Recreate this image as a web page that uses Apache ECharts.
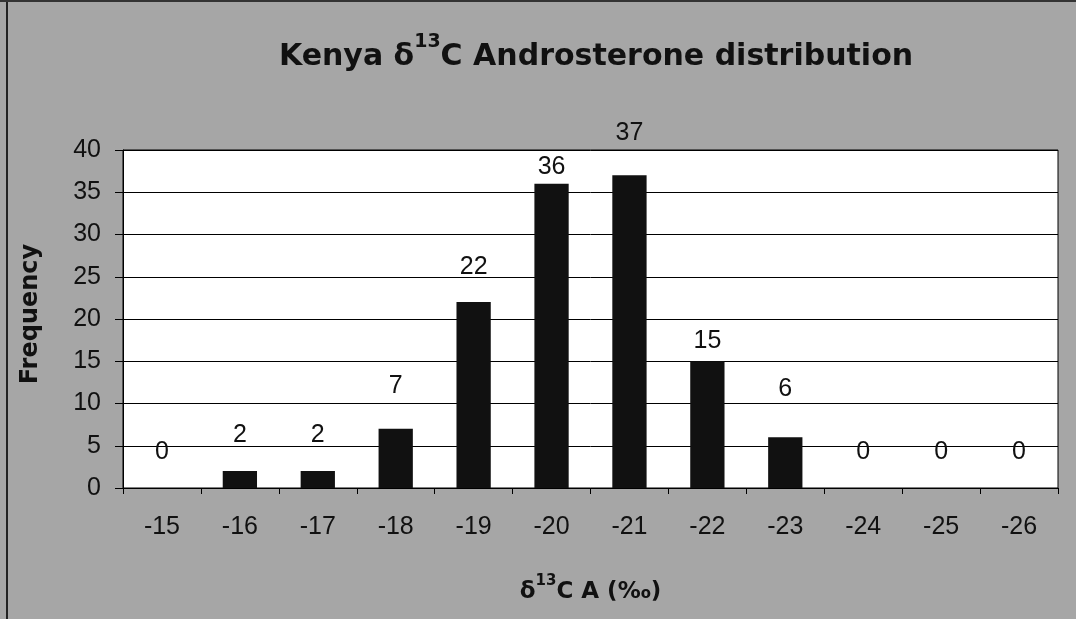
<!DOCTYPE html>
<html>
<head>
<meta charset="utf-8">
<script src="https://cdn.jsdelivr.net/npm/echarts@6/dist/echarts.min.js"></script>
<style>
  html, body { margin: 0; padding: 0; background: #a6a6a6; }
  #chart { width: 1076px; height: 619px; }
</style>
</head>
<body>
<div id="chart"></div>
<script>
// 数据
const categories = ['-15', '-16', '-17', '-18', '-19', '-20', '-21', '-22', '-23', '-24', '-25', '-26']
const frequency = [0, 2, 2, 7, 22, 36, 37, 15, 6, 0, 0, 0]
const yTicks = [0, 5, 10, 15, 20, 25, 30, 35, 40]

const chart = echarts.init(document.getElementById('chart'))
const font = 'Arial, "Liberation Sans", Helvetica, sans-serif'
const wide = '"DejaVu Sans", Arial, sans-serif'

// 数值标签离柱顶的距离（原图里各不相同）
const labelGap = [23, 23, 23, 30, 22, 4, 30, 8, 36, 23, 23, 23]

const option = {
  backgroundColor: '#a6a6a6',
  animation: false,
  title: {
    text: '{m|Kenya δ}{sup|13}{m|C Androsterone distribution}',
    left: 591,
    textAlign: 'center',
    top: 28,
    textStyle: {
      rich: {
        m: { fontFamily: wide, fontSize: 30, fontWeight: 'bold', color: '#111', lineHeight: 48 },
        sup: { fontFamily: wide, fontSize: 19, fontWeight: 'bold', color: '#111', lineHeight: 21, verticalAlign: 'top' }
      }
    }
  },
  graphic: [
    {
      // 扫描件的边框
      type: 'line',
      shape: { x1: 7, y1: 0, x2: 7, y2: 619 },
      style: { stroke: '#222', lineWidth: 2 },
      silent: true
    },
    {
      type: 'line',
      shape: { x1: 0, y1: 1, x2: 1076, y2: 1 },
      style: { stroke: '#333', lineWidth: 2 },
      silent: true
    }
  ],
  grid: {
    left: 123,
    right: 18,
    top: 150,
    bottom: 131,
    show: true,
    backgroundColor: '#fff',
    borderColor: '#000',
    borderWidth: 1
  },
  xAxis: {
    type: 'category',
    data: categories,
    name: '{m|δ}{sup|13}{m|C A (‰)}',
    nameLocation: 'middle',
    nameGap: 86,
    nameTextStyle: {
      rich: {
        m: { fontFamily: wide, fontSize: 23, fontWeight: 'bold', color: '#111', lineHeight: 36 },
        sup: { fontFamily: wide, fontSize: 15, fontWeight: 'bold', color: '#111', lineHeight: 17, verticalAlign: 'top' }
      }
    },
    axisLine: { lineStyle: { color: '#000', width: 1 } },
    axisTick: { show: true, length: 6, lineStyle: { color: '#000' } },
    axisLabel: { fontFamily: font, fontSize: 25, color: '#111', margin: 27 },
    splitLine: { show: false }
  },
  yAxis: {
    type: 'value',
    min: yTicks[0],
    max: yTicks[yTicks.length - 1],
    interval: 5,
    name: 'Frequency',
    nameLocation: 'middle',
    nameGap: 80,
    nameRotate: 90,
    nameTextStyle: { fontFamily: wide, fontSize: 24, fontWeight: 'bold', color: '#111', padding: [0, 0, 0, 10] },
    axisLine: { show: true, lineStyle: { color: '#000', width: 1 } },
    axisTick: { show: true, length: 8, lineStyle: { color: '#000' } },
    axisLabel: { fontFamily: font, fontSize: 25, color: '#111', margin: 22 },
    splitLine: { show: true, lineStyle: { color: '#000', width: 1 } }
  },
  series: [
    {
      type: 'bar',
      data: frequency.map((v, i) => ({ value: v, label: { distance: labelGap[i] } })),
      barWidth: '44%',
      itemStyle: { color: '#111' },
      label: {
        show: true,
        position: 'top',
        fontFamily: font,
        fontSize: 25,
        color: '#111'
      }
    }
  ]
}

chart.setOption(option)
</script>
</body>
</html>
